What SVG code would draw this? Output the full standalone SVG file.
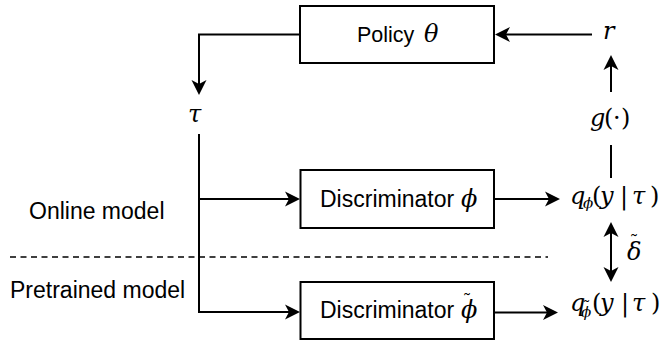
<svg xmlns="http://www.w3.org/2000/svg" width="662" height="343" viewBox="0 0 662 343">
<style>
.box{fill:#fff;stroke:#000;stroke-width:2}
.ln{fill:none;stroke:#000;stroke-width:2}
.lbl{font-family:"Liberation Sans",Arial,sans-serif;font-size:23px;fill:#000}
.m{font-family:"DejaVu Serif","Liberation Serif",serif;font-style:italic;font-size:24px;fill:#000}
.u{font-style:normal}
.sub{font-size:15px}
.t{font-style:normal;font-size:18px}
</style>
<defs>
<marker id="ah" markerUnits="userSpaceOnUse" markerWidth="16" markerHeight="16" refX="11" refY="7.5" orient="auto-start-reverse" overflow="visible">
<path d="M15,7.5 L0,0 L4,7.5 L0,15 Z" fill="#000"/>
</marker>
</defs>
<rect width="662" height="343" fill="#fff"/>
<g id="connectors">
<path class="ln" d="M300,34.5 H199 V91" marker-end="url(#ah)"/>
<path class="ln" d="M592,34.5 H499" marker-end="url(#ah)"/>
<path class="ln" d="M611,92 V59" marker-end="url(#ah)"/>
<path class="ln" d="M611,178 V145"/>
<path class="ln" d="M199,134 V312 H296" marker-end="url(#ah)"/>
<path class="ln" d="M199,199 H296" marker-end="url(#ah)"/>
<path class="ln" d="M494,199 H556" marker-end="url(#ah)"/>
<path class="ln" d="M494,312.5 H554" marker-end="url(#ah)"/>
<path class="ln" d="M611,226 V278" marker-start="url(#ah)" marker-end="url(#ah)"/>
</g>
<g id="separator">
<line x1="10" y1="257" x2="548" y2="257" stroke="#000" stroke-width="1.5" stroke-dasharray="6 4.5"/>
</g>
<g id="policy">
<rect class="box" x="300" y="6" width="194" height="57"/>
<text class="lbl" x="357" y="42" style="font-size:21.5px">Policy <tspan class="m" x="424">θ</tspan></text>
</g>
<g id="disc-online">
<rect class="box" x="300.5" y="170" width="193.5" height="58"/>
<text class="lbl" x="320" y="207">Discriminator <tspan class="m" x="461">ϕ</tspan></text>
</g>
<g id="disc-pretrained">
<rect class="box" x="300.5" y="282" width="193.5" height="57"/>
<text class="lbl" x="320" y="318">Discriminator <tspan class="m" x="461">ϕ</tspan><tspan class="m t" x="467" y="307" text-anchor="middle">˜</tspan></text>
</g>
<g id="tau">
<text class="m" x="188" y="122">τ</text>
</g>
<g id="r">
<text class="m" x="603" y="39">r</text>
</g>
<g id="g">
<text class="m" x="590" y="126">g<tspan class="u" x="604">(</tspan><tspan class="u" x="613">·</tspan><tspan class="u" x="621">)</tspan></text>
</g>
<g id="q-online">
<text class="m" x="570" y="204">q<tspan class="sub" x="583" dy="4">ϕ</tspan><tspan class="u" x="592" dy="-4">(</tspan><tspan x="600">y</tspan><tspan class="u" x="620">|</tspan><tspan x="632">τ</tspan><tspan class="u" x="650">)</tspan></text>
</g>
<g id="q-pretrained">
<text class="m" x="570" y="311">q<tspan class="sub" x="581" y="317">ϕ</tspan><tspan class="t" x="586.5" y="313" text-anchor="middle" style="font-size:16px">˜</tspan><tspan class="u" x="592" y="311">(</tspan><tspan x="600">y</tspan><tspan class="u" x="621">|</tspan><tspan x="632">τ</tspan><tspan class="u" x="651">)</tspan></text>
</g>
<g id="delta">
<text class="m" x="627" y="260">δ<tspan class="t" x="634" y="248" text-anchor="middle">˜</tspan></text>
</g>
<g id="labels">
<text class="lbl" x="29" y="219">Online model</text>
<text class="lbl" x="10" y="298">Pretrained model</text>
</g>
</svg>
